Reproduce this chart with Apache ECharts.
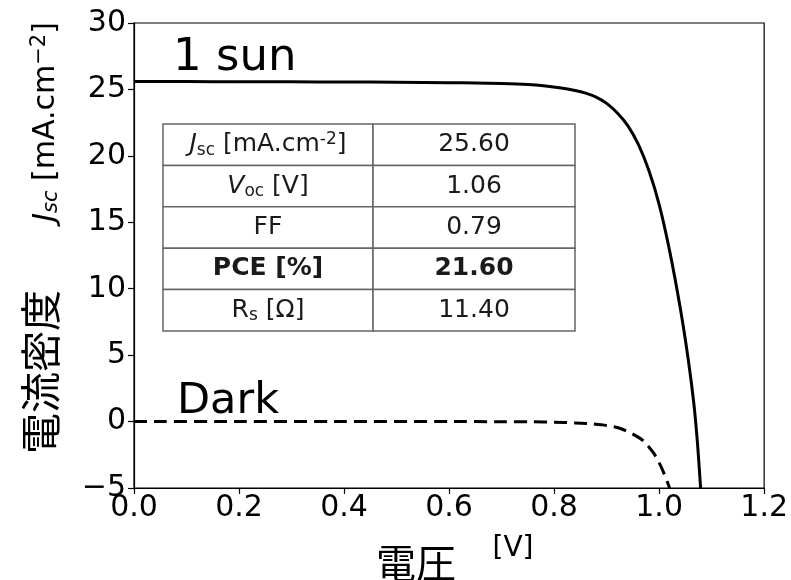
<!DOCTYPE html>
<html>
<head>
<meta charset="utf-8">
<script src="https://cdn.jsdelivr.net/npm/echarts@6/dist/echarts.min.js"></script>
<style>
  html, body { margin: 0; padding: 0; background: #fff; }
  #chart { width: 791px; height: 580px; }
</style>
</head>
<body>
<div id="chart"></div>
<script>
// J-V curve under 1 sun illumination (voltage in V, current density in mA/cm^2)
const voltageLight = [0, 0.1, 0.2, 0.3, 0.4, 0.5, 0.6, 0.65, 0.7, 0.75, 0.78, 0.81, 0.84, 0.86, 0.88, 0.9, 0.92, 0.94, 0.96, 0.98, 1.0, 1.02, 1.04, 1.055, 1.066, 1.073, 1.079];
const currentLight = [25.60, 25.59, 25.58, 25.57, 25.56, 25.54, 25.51, 25.48, 25.44, 25.37, 25.28, 25.13, 24.92, 24.72, 24.42, 23.95, 23.25, 22.3, 20.9, 18.95, 16.35, 12.85, 8.6, 4.8, 1.4, -1.6, -5.0];

// J-V curve in the dark
const voltageDark = [0, 0.2, 0.4, 0.6, 0.7, 0.76, 0.8, 0.84, 0.87, 0.9, 0.925, 0.95, 0.97, 0.99, 1.005, 1.02];
const currentDark = [0, 0, 0, 0, -0.01, -0.02, -0.05, -0.1, -0.17, -0.3, -0.5, -0.95, -1.45, -2.4, -3.5, -5.0];

// Device parameters shown in the inset table
const paramNames = ['{it|J}{sub|sc} [mA.cm{sup|-2}]', '{it|V}{sub|oc} [V]', 'FF', '{b|PCE [%]}', 'R{sub|s} [Ω]'];
const paramValues = ['25.60', '1.06', '0.79', '21.60', '11.40'];
const boldRow = 3;

// Axis ranges and tick spacing
const xMin = 0, xMax = 1.2, xStep = 0.2;
const yMin = -5, yMax = 30, yStep = 5;

const FONT = 'DejaVu Sans';
const CJK = 'Noto Sans CJK JP';

const chart = echarts.init(document.getElementById('chart'), null, { renderer: 'canvas' });

// Inset table built as graphic elements
const tbl = { left: 163, top: 124, col1: 210, col2: 202, rowH: 41.4 };
const tableGraphics = [];
const tableFont = 25;
const textColor = '#1a1a1a';
const richStyles = {
  it: { fontFamily: FONT, fontStyle: 'italic', fontSize: tableFont, color: textColor },
  sub: { fontFamily: FONT, fontSize: 17, color: textColor, padding: [11, 0, 0, 0] },
  sup: { fontFamily: FONT, fontSize: 17, color: textColor, padding: [0, 0, 10, 0] },
  b: { fontFamily: FONT, fontWeight: 'bold', fontSize: tableFont, color: textColor }
};
paramNames.forEach(function (name, i) {
  const y = tbl.top + i * tbl.rowH;
  tableGraphics.push({
    type: 'rect', silent: true,
    shape: { x: tbl.left, y: y, width: tbl.col1, height: tbl.rowH },
    style: { fill: '#fff', stroke: '#666', lineWidth: 1.5 }
  });
  tableGraphics.push({
    type: 'rect', silent: true,
    shape: { x: tbl.left + tbl.col1, y: y, width: tbl.col2, height: tbl.rowH },
    style: { fill: '#fff', stroke: '#666', lineWidth: 1.5 }
  });
  tableGraphics.push({
    type: 'text', silent: true,
    x: tbl.left + tbl.col1 / 2, y: y + tbl.rowH / 2,
    style: {
      text: name, rich: richStyles, align: 'center', verticalAlign: 'middle',
      fontFamily: FONT, fontSize: tableFont, fill: textColor
    }
  });
  tableGraphics.push({
    type: 'text', silent: true,
    x: tbl.left + tbl.col1 + tbl.col2 / 2, y: y + tbl.rowH / 2,
    style: {
      text: paramValues[i], align: 'center', verticalAlign: 'middle',
      fontFamily: FONT, fontSize: tableFont, fill: textColor,
      fontWeight: i === boldRow ? 'bold' : 'normal'
    }
  });
});

const axisTitleRich = {
  it: { fontFamily: FONT, fontStyle: 'italic', fontSize: 30, color: '#000' },
  sub: { fontFamily: FONT, fontStyle: 'italic', fontSize: 21, color: '#000', padding: [12, 0, 0, 0] },
  sup: { fontFamily: FONT, fontSize: 21, color: '#000', padding: [0, 0, 12, 0] }
};

const option = {
  animation: false,
  backgroundColor: '#fff',
  grid: {
    left: 134, right: 23, top: 23, bottom: 92,
    show: true, borderColor: '#000', borderWidth: 1.2, backgroundColor: 'transparent'
  },
  xAxis: {
    type: 'value', min: xMin, max: xMax, interval: xStep,
    splitLine: { show: false },
    axisLine: { show: true, onZero: false, lineStyle: { color: '#000', width: 1.2 } },
    axisTick: { show: true, inside: false, length: 6, lineStyle: { color: '#000', width: 1.2 } },
    axisLabel: {
      margin: 5, color: '#000', fontFamily: FONT, fontSize: 30,
      formatter: function (v) { return v.toFixed(1); }
    }
  },
  yAxis: {
    type: 'value', min: yMin, max: yMax, interval: yStep,
    splitLine: { show: false },
    axisLine: { show: true, onZero: false, lineStyle: { color: '#000', width: 1.2 } },
    axisTick: { show: true, inside: false, length: 6, lineStyle: { color: '#000', width: 1.2 } },
    axisLabel: {
      margin: 8, color: '#000', fontFamily: FONT, fontSize: 30,
      formatter: function (v) { return v < 0 ? '\u2212' + Math.abs(v) : String(v); }
    }
  },
  series: [
    {
      name: '1 sun', type: 'line', showSymbol: false, smooth: 0.25,
      data: voltageLight.map(function (v, i) { return [v, currentLight[i]]; }),
      lineStyle: { color: '#000', width: 3 }, z: 3
    },
    {
      name: 'Dark', type: 'line', showSymbol: false, smooth: 0.25,
      data: voltageDark.map(function (v, i) { return [v, currentDark[i]]; }),
      lineStyle: { color: '#000', width: 3, type: [13, 7] }, z: 3
    }
  ],
  graphic: tableGraphics.concat([
    {
      type: 'text', silent: true, x: 173, y: 58,
      style: { text: '1 sun', fontFamily: FONT, fontSize: 45, fill: '#000', align: 'left', verticalAlign: 'middle' }
    },
    {
      type: 'text', silent: true, x: 177, y: 402,
      style: { text: 'Dark', fontFamily: FONT, fontSize: 43, fill: '#000', align: 'left', verticalAlign: 'middle' }
    },
    {
      type: 'text', silent: true, x: 46, y: 122, rotation: Math.PI / 2,
      style: {
        text: '{it|J}{sub|sc} [mA.cm{sup|\u22122}]', rich: axisTitleRich,
        fontFamily: FONT, fontSize: 30, fill: '#000', align: 'center', verticalAlign: 'middle'
      }
    },
    {
      type: 'text', silent: true, x: 40, y: 372, rotation: Math.PI / 2,
      style: { text: '電流密度', fontFamily: CJK, fontSize: 41, fill: '#000', align: 'center', verticalAlign: 'middle' }
    },
    {
      type: 'text', silent: true, x: 416, y: 563,
      style: { text: '電圧', fontFamily: CJK, fontSize: 40, fill: '#000', align: 'center', verticalAlign: 'middle' }
    },
    {
      type: 'text', silent: true, x: 513, y: 549,
      style: { text: '[V]', fontFamily: FONT, fontSize: 28, fill: '#000', align: 'center', verticalAlign: 'middle' }
    }
  ])
};

chart.setOption(option);
</script>
</body>
</html>
